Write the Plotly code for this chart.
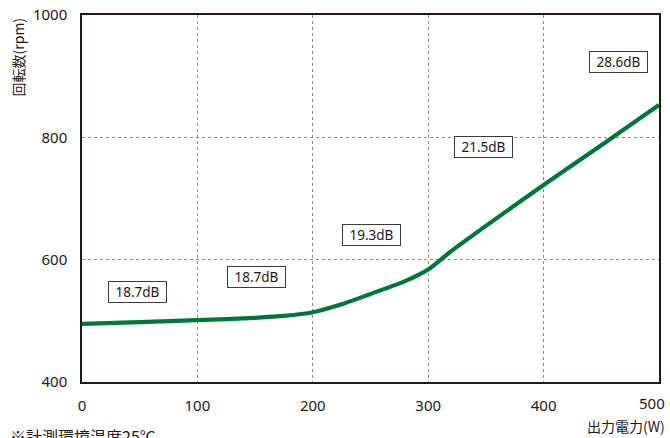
import plotly.graph_objects as go

power_w = [0, 50, 100, 150, 175, 200, 225, 250, 280, 300, 320, 400, 450, 500]
rpm = [495, 498, 501, 505, 508, 514, 527, 544, 565, 584, 614, 722, 787, 853]

label_x = [48.5, 151, 251, 348, 465]
label_y = [547, 571, 640, 785, 923]
label_text = ["18.7dB", "18.7dB", "19.3dB", "21.5dB", "28.6dB"]

x_ticks = [0, 100, 200, 300, 400, 500]
x_tick_text = ["0", "100", "200", "300", "400", ""]
y_ticks = [400, 600, 800, 1000]

TXT = "#231815"
FONT = "Noto Sans CJK JP"
NUM = "Noto Sans"

fig = go.Figure()
fig.add_trace(go.Scatter(
    x=power_w, y=rpm, mode="lines",
    line=dict(color="#00773a", width=4.2, shape="spline", smoothing=0.6),
    hoverinfo="skip", showlegend=False,
))

for x, y, t in zip(label_x, label_y, label_text):
    fig.add_annotation(
        x=x, y=y, text=t, showarrow=False, xref="x", yref="y",
        font=dict(family=NUM, size=13.5, color=TXT),
        bordercolor="#3a3a3a", borderwidth=1, borderpad=2, bgcolor="white",
        width=53, height=16,
    )

# last x tick label, kept inside the page like the reference
fig.add_annotation(x=x_ticks[-1], y=0, xref="x", yref="paper",
                   text=str(x_ticks[-1]), showarrow=False,
                   xanchor="right", yanchor="top", xshift=8, yshift=-9,
                   font=dict(family=NUM, size=15, color=TXT))

fig.add_annotation(x=-0.111, y=1.0, xref="paper", yref="paper",
                   text="回転数(rpm)", textangle=-90, showarrow=False,
                   xanchor="center", yanchor="top",
                   font=dict(family=FONT, size=14, color=TXT))
fig.add_annotation(x=1.014, y=-0.088, xref="paper", yref="paper",
                   text="出力電力(W)", showarrow=False,
                   xanchor="right", yanchor="top",
                   font=dict(family=FONT, size=14, color=TXT))
fig.add_annotation(x=-0.128, y=-0.11, xref="paper", yref="paper",
                   text="※計測環境温度25℃", showarrow=False,
                   xanchor="left", yanchor="top",
                   font=dict(family=FONT, size=16, color=TXT))

axis_common = dict(
    showline=True, linecolor="#231815", linewidth=1.5, mirror=True,
    showgrid=True, gridcolor="#8a8a8a", griddash="dot", gridwidth=1,
    ticks="", zeroline=False, automargin=False,
    tickfont=dict(family=NUM, size=15, color=TXT),
)

fig.update_xaxes(range=[0, 500], tickvals=x_ticks, ticktext=x_tick_text,
                 ticklabelstandoff=9, **axis_common)
fig.update_yaxes(range=[400, 1000], tickvals=y_ticks, ticklabelstandoff=10, **axis_common)

fig.update_layout(
    width=670, height=438,
    margin=dict(l=82, r=11, t=15, b=56),
    plot_bgcolor="white", paper_bgcolor="white",
    showlegend=False,
)

fig.write_html("out.html", config={"displayModeBar": False},
               post_script="document.body.style.margin='0';")
